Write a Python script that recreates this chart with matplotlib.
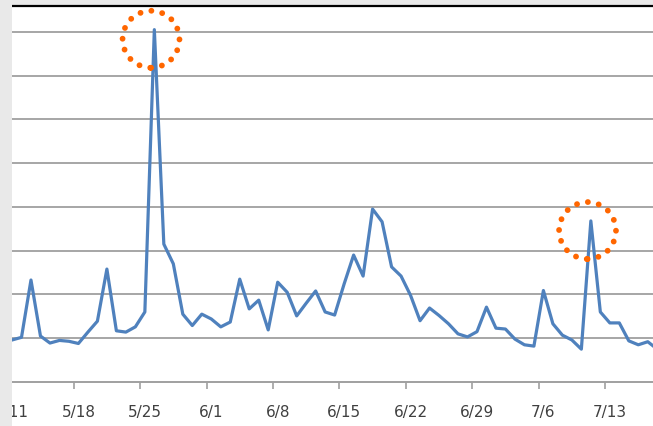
import matplotlib
matplotlib.use("Agg")
import matplotlib.pyplot as plt
from matplotlib.patches import Ellipse, Rectangle
import numpy as np

# daily values starting 5/11 (one point per day)
values = [0.96, 1.02, 2.33, 1.05, 0.89, 0.95, 0.93, 0.88, 1.14, 1.39,
          2.58, 1.17, 1.14, 1.26, 1.60, 8.05, 3.15, 2.70, 1.55, 1.29,
          1.55, 1.44, 1.26, 1.37, 2.35, 1.67, 1.87, 1.19, 2.28, 2.05,
          1.51, 1.80, 2.08, 1.60, 1.53, 2.24, 2.90, 2.42, 3.95, 3.66,
          2.63, 2.42, 1.98, 1.40, 1.69, 1.52, 1.33, 1.10, 1.03, 1.15,
          1.71, 1.23, 1.21, 0.98, 0.85, 0.82, 2.09, 1.33, 1.07, 0.96,
          0.75, 3.68, 1.60, 1.35, 1.35, 0.94, 0.85, 0.92, 0.75]
week_labels = ['5/11', '5/18', '5/25', '6/1', '6/8', '6/15', '6/22', '6/29', '7/6', '7/13']
circled_days = [15, 61]   # the two spikes marked with orange circles

W, H = 653, 427
fig = plt.figure(figsize=(W / 100, H / 100), dpi=100, facecolor='#e9e9e9')

# white chart area (gray strip on the left and on top)
fig.add_artist(Rectangle((12 / W, 0), 1 - 12 / W, 420 / H, transform=fig.transFigure,
                         facecolor='white', edgecolor='none', zorder=-1))

ax = fig.add_axes([12 / W, 44 / H, 641 / W, 376 / H])
ax.set_facecolor('white')

days = np.arange(len(values))
ax.plot(days, values, color='#4f81bd', lw=2.3, solid_joinstyle='round', zorder=3)

ax.set_xlim(0.08, 67.55)
ax.set_ylim(0, 8.59)

# horizontal gridlines
ax.set_yticks(np.arange(1, 9))
ax.yaxis.grid(True, color='#a6a6a6', lw=1.4)
ax.tick_params(axis='y', left=False, labelleft=False)

# x axis: labels on the dates, tick marks between categories
ax.set_xticks(np.arange(0, 7 * len(week_labels), 7))
ax.set_xticklabels(week_labels)
ax.set_xticks(np.arange(6.5, 67, 7), minor=True)
ax.tick_params(axis='x', which='major', length=0, pad=16, labelsize=11, labelcolor='#404040')
ax.tick_params(axis='x', which='minor', length=5, width=1.2, color='#a0a0a0', direction='out')

for s in ['left', 'right']:
    ax.spines[s].set_visible(False)
ax.spines['bottom'].set_color('#a0a0a0')
ax.spines['bottom'].set_linewidth(1.4)
ax.spines['top'].set_color('black')
ax.spines['top'].set_linewidth(1.6)

# dotted orange circles around the spikes (radius ~28.5 px)
rx = 57 / 9.5
ry = 57 / 43.75
for d in circled_days:
    e = Ellipse((d - 0.35, values[d] - 0.22), rx, ry, fill=False,
                edgecolor='#ff6600', lw=4.2, linestyle=(0, (0.01, 1.9)), zorder=4)
    e.set_capstyle('round')
    ax.add_patch(e)

# gray strip drawn over the cut-off first label
fig.add_artist(Rectangle((0, 0), 12 / W, 1, transform=fig.transFigure,
                         facecolor='#e9e9e9', edgecolor='none', zorder=10))

fig.savefig('out.png', dpi=100, facecolor=fig.get_facecolor())
